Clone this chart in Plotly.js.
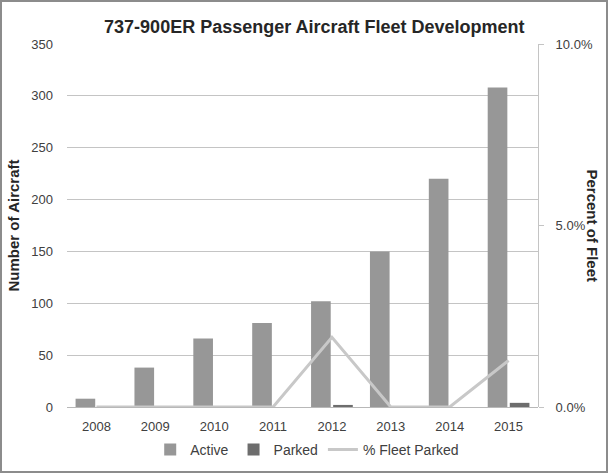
<!DOCTYPE html>
<html>
<head>
<meta charset="utf-8">
<script src="https://cdn.plot.ly/plotly-3.0.1.min.js"></script>
<style>
  html, body { margin: 0; padding: 0; background: #fff; }
  #wrap { position: relative; width: 608px; height: 473px; }
  #chart { width: 608px; height: 473px; }
  #frame { position: absolute; left: 0; top: 0; width: 608px; height: 473px; box-sizing: border-box; border: 2px solid #8c8c8c; pointer-events: none; }
</style>
</head>
<body>
<div id="wrap">
  <div id="chart"></div>
  <div id="frame"></div>
</div>
<script>
const years = ['2008', '2009', '2010', '2011', '2012', '2013', '2014', '2015'];
const active = [8, 38, 66, 81, 102, 150, 220, 308];
const parked = [0, 0, 0, 0, 2, 0, 0, 4];
const pctParked = [0, 0, 0, 0, 0.0192, 0, 0, 0.0128];
const leftTicks = [0, 50, 100, 150, 200, 250, 300, 350];
const rightTicks = [0, 0.05, 0.10];

const FONT = 'Liberation Sans, Arial, sans-serif';
const TXT = '#404040';

const traces = [
  {
    type: 'bar', name: 'Active', x: years, y: active,
    marker: { color: '#979797' }
  },
  {
    type: 'bar', name: 'Parked', x: years, y: parked,
    marker: { color: '#6d6d6d' }
  },
  {
    type: 'scatter', mode: 'lines', name: '% Fleet Parked', x: years, y: pctParked,
    yaxis: 'y2', line: { color: '#c8c8c8', width: 3 }
  }
];

const layout = {
  width: 608, height: 473,
  margin: { l: 67, r: 70, t: 44, b: 66, autoexpand: false },
  paper_bgcolor: '#ffffff', plot_bgcolor: '#ffffff',
  font: { family: FONT, size: 13, color: TXT },
  title: {
    text: '<b>737-900ER Passenger Aircraft Fleet Development</b>',
    font: { family: FONT, size: 18, color: '#262626' },
    x: 0.517, xref: 'container', xanchor: 'center',
    y: 1 - 27 / 473, yref: 'container', yanchor: 'middle'
  },
  barmode: 'group', bargap: 0.25, bargroupgap: 0.11,
  showlegend: true,
  legend: {
    orientation: 'h', x: 0.51, xanchor: 'center', y: -0.118, yanchor: 'middle',
    font: { family: FONT, size: 14, color: TXT }, traceorder: 'normal',
    itemwidth: 30
  },
  xaxis: {
    type: 'category', tickvals: years, ticktext: years,
    showgrid: false, showline: false, zeroline: false, ticks: '',
    ticklabelstandoff: 10, automargin: false,
    tickfont: { family: FONT, size: 13, color: TXT }
  },
  yaxis: {
    range: [0, 350], tickvals: leftTicks, ticktext: leftTicks.map(String),
    showgrid: true, gridcolor: '#c4c4c4', gridwidth: 1,
    zeroline: true, zerolinecolor: '#b8b8b8', zerolinewidth: 1,
    showline: false, ticks: '', ticklabelstandoff: 13, automargin: false,
    tickfont: { family: FONT, size: 13, color: TXT },
    title: { text: '<b>Number of Aircraft</b>', font: { family: FONT, size: 15, color: '#262626' }, standoff: 8 }
  },
  yaxis2: {
    range: [0, 0.10], overlaying: 'y', side: 'right',
    tickvals: rightTicks, tickformat: '.1%',
    showgrid: false, zeroline: false,
    showline: true, linecolor: '#c4c4c4', linewidth: 1,
    ticks: 'outside', ticklen: 5, tickcolor: '#c4c4c4',
    ticklabelstandoff: 9, automargin: false,
    tickfont: { family: FONT, size: 13, color: TXT }
  },
  annotations: [
    {
      text: '<b>Percent of Fleet</b>', xref: 'paper', yref: 'paper',
      x: (592 - 67) / 471, y: 0.5, xanchor: 'center', yanchor: 'middle',
      textangle: 90, showarrow: false,
      font: { family: FONT, size: 15, color: '#262626' }
    }
  ]
};

Plotly.newPlot('chart', traces, layout, { displayModeBar: false, staticPlot: true });
</script>
</body>
</html>
